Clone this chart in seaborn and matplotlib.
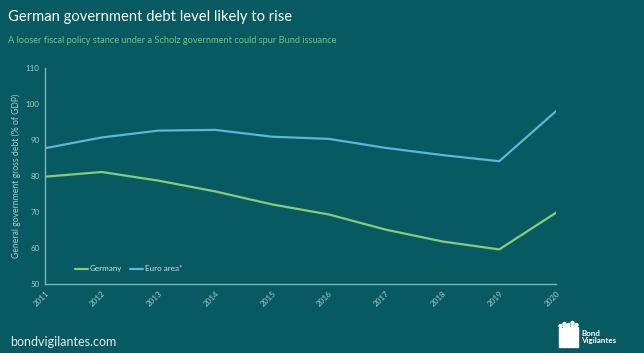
import matplotlib
matplotlib.use("Agg")
import matplotlib.pyplot as plt
import seaborn as sns
import pandas as pd
from matplotlib.patches import Rectangle, Ellipse

years = [2011, 2012, 2013, 2014, 2015, 2016, 2017, 2018, 2019, 2020]
germany = [79.8, 81.1, 78.7, 75.7, 72.1, 69.3, 65.1, 61.8, 59.6, 69.8]
euro_area = [87.7, 90.7, 92.6, 92.8, 90.9, 90.3, 87.8, 85.8, 84.1, 98.0]
series_names = ["Germany", "Euro area*"]
yticks = [50, 60, 70, 80, 90, 100, 110]

df = pd.DataFrame({
    "year": years * 2,
    "value": germany + euro_area,
    "series": [series_names[0]] * len(years) + [series_names[1]] * len(years),
})

bg = "#075a61"
sns.set_theme(style="white")
plt.rcParams['font.family'] = ['Lato', 'DejaVu Sans']

fig = plt.figure(figsize=(6.44, 3.53), dpi=100, facecolor=bg)
ax = fig.add_axes([0.0699, 0.1955, 0.7935, 0.612])
ax.set_facecolor(bg)

palette = {series_names[0]: "#86cc7a", series_names[1]: "#5fb6d8"}
sns.lineplot(data=df, x="year", y="value", hue="series", palette=palette,
             linewidth=1.6, ax=ax)

ax.set_xlim(2011, 2020)
ax.set_ylim(50, 110)
ax.set_yticks(yticks)
ax.set_xticks(years)
ax.set_xticklabels([str(y) for y in years], rotation=45, ha="right",
                   rotation_mode="anchor")
ax.tick_params(axis="both", colors="#a9cacc", labelsize=5.8, length=0, pad=4)
for s in ["top", "right"]:
    ax.spines[s].set_visible(False)
for s in ["left", "bottom"]:
    ax.spines[s].set_color("#7fb5b9")
    ax.spines[s].set_linewidth(1.0)
ax.set_xlabel("")
ax.set_ylabel("General government gross debt (% of GDP)", color="#a9cacc",
              fontsize=6.2, labelpad=3)

leg = ax.legend(loc="lower left", bbox_to_anchor=(0.045, 0.02), ncol=2,
                frameon=False, fontsize=5.8, handlelength=1.6, handletextpad=0.2,
                columnspacing=1.0)
for t in leg.get_texts():
    t.set_color("#cfe3e3")

fig.text(0.012, 0.952, "German government debt level likely to rise",
         color="white", fontsize=10.6, va="center", ha="left")
fig.text(0.012, 0.886,
         "A looser fiscal policy stance under a Scholz government could spur Bund issuance",
         color="#77c27a", fontsize=6.7, va="center", ha="left")
fig.text(0.015, 0.03, "bondvigilantes.com", color="#e6eeee", fontsize=9.0,
         va="center", ha="left")
fig.text(0.902, 0.046, "Bond\nVigilantes", color="white", fontsize=5.8,
         va="center", ha="left", linespacing=0.95, fontweight="bold")

# simple logo figures
W, H = 644.0, 353.0
for i, (px, top) in enumerate([(559, 326), (563, 324), (567, 325),
                               (571, 323), (575, 325)]):
    fig.patches.append(Ellipse(((px + 1.5) / W, 1 - top / H), 3 / W, 3 / H,
                               transform=fig.transFigure, color="white"))
    fig.patches.append(Rectangle((px / W, 1 - 347 / H), 3 / W,
                                 (347 - top - 2) / H,
                                 transform=fig.transFigure, color="white"))

fig.savefig("out.png", dpi=100, facecolor=bg)
